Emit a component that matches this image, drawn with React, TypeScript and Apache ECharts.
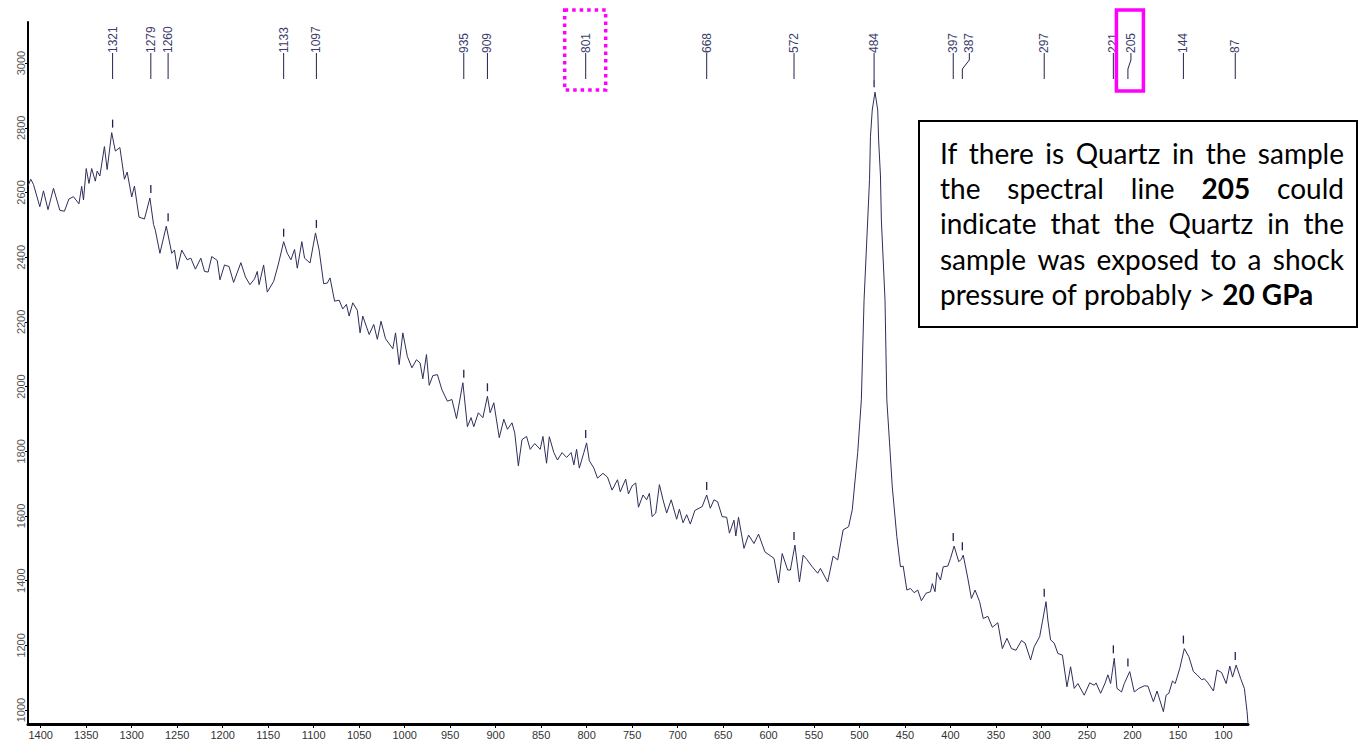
import React, { useEffect, useRef } from "react";
import * as echarts from "echarts";

// Raman shift (cm-1) and intensity
const wavenumbers = [
  1414, 1411, 1408, 1401, 1397, 1392, 1386, 1379, 1374, 1369,
  1364, 1358, 1355, 1353, 1350, 1347, 1344, 1340, 1338, 1335,
  1330, 1327, 1322, 1318, 1313, 1308, 1305, 1300, 1297, 1292,
  1286, 1280, 1276, 1274, 1269, 1262, 1256, 1253, 1250, 1245,
  1239, 1235, 1230, 1224, 1220, 1216, 1212, 1206, 1203, 1198,
  1193, 1188, 1180, 1175, 1170, 1165, 1162, 1160, 1155, 1151,
  1144, 1139, 1133, 1129, 1125, 1121, 1118, 1113, 1110, 1104,
  1098, 1094, 1089, 1085, 1082, 1077, 1072, 1068, 1064, 1061,
  1057, 1052, 1049, 1046, 1039, 1034, 1030, 1026, 1021, 1013,
  1010, 1006, 1002, 997, 992, 987, 983, 980, 976, 973,
  969, 964, 959, 953, 948, 943, 936, 931, 927, 924,
  919, 914, 909, 906, 902, 896, 891, 887, 882, 879,
  875, 871, 866, 862, 857, 851, 848, 844, 841, 836,
  832, 827, 822, 817, 814, 811, 808, 803, 800, 797,
  792, 788, 782, 777, 772, 766, 763, 757, 754, 750,
  746, 743, 738, 734, 731, 728, 724, 720, 716, 712,
  707, 701, 698, 694, 690, 686, 681, 673, 668, 664,
  660, 656, 651, 646, 643, 638, 636, 633, 627, 622,
  616, 611, 604, 594, 589, 585, 579, 576, 571, 566,
  562, 558, 552, 546, 543, 535, 529, 524, 518, 512,
  508, 502, 498, 495, 491, 489, 488, 486, 483, 480,
  479, 477, 476, 472, 470, 467, 464, 459, 455, 452,
  448, 444, 440, 436, 432, 427, 422, 420, 417, 415,
  411, 408, 403, 400, 396, 391, 388, 386, 381, 377,
  373, 368, 364, 359, 354, 348, 343, 338, 333, 328,
  322, 318, 312, 308, 302, 299, 295, 293, 290, 286,
  282, 277, 272, 268, 264, 260, 253, 247, 242, 240,
  235, 230, 227, 224, 220, 217, 212, 209, 203, 198,
  193, 187, 183, 177, 173, 166, 163, 160, 156, 153,
  148, 143, 138, 133, 129, 124, 121, 117, 111, 107,
  102, 97, 93, 90, 86, 81, 77, 74, 73,
];

const intensities = [
  2620, 2641, 2625, 2556, 2605, 2547, 2613, 2545, 2542, 2580,
  2587, 2565, 2619, 2577, 2674, 2628, 2674, 2635, 2666, 2651,
  2742, 2671, 2785, 2728, 2739, 2641, 2663, 2586, 2620, 2524,
  2518, 2583, 2501, 2483, 2412, 2496, 2412, 2422, 2363, 2422,
  2392, 2397, 2363, 2397, 2356, 2354, 2402, 2390, 2330, 2376,
  2371, 2322, 2383, 2339, 2315, 2333, 2356, 2315, 2376, 2292,
  2325, 2376, 2448, 2412, 2392, 2424, 2366, 2448, 2397, 2382,
  2475, 2422, 2318, 2320, 2336, 2264, 2267, 2240, 2254, 2218,
  2259, 2236, 2166, 2218, 2161, 2192, 2146, 2202, 2148, 2117,
  2166, 2068, 2166, 2093, 2058, 2083, 2073, 2024, 2099, 2004,
  2034, 2037, 1990, 1955, 1960, 1901, 2012, 1876, 1904, 1876,
  1919, 1904, 1970, 1919, 1950, 1842, 1899, 1868, 1888, 1857,
  1755, 1836, 1846, 1806, 1824, 1806, 1846, 1763, 1845, 1796,
  1773, 1796, 1781, 1796, 1758, 1806, 1748, 1796, 1826, 1771,
  1748, 1717, 1732, 1720, 1680, 1712, 1675, 1714, 1668, 1693,
  1702, 1627, 1665, 1650, 1670, 1598, 1609, 1697, 1650, 1609,
  1650, 1590, 1621, 1579, 1604, 1575, 1617, 1629, 1665, 1624,
  1650, 1644, 1598, 1596, 1547, 1587, 1538, 1596, 1500, 1541,
  1515, 1544, 1489, 1469, 1393, 1484, 1433, 1433, 1510, 1396,
  1479, 1466, 1443, 1423, 1438, 1396, 1476, 1464, 1557, 1567,
  1619, 1796, 1959, 2268, 2515, 2641, 2772, 2855, 2910, 2855,
  2762, 2651, 2515, 2268, 1959, 1826, 1690, 1536, 1443, 1445,
  1371, 1376, 1363, 1371, 1338, 1361, 1366, 1391, 1366, 1425,
  1402, 1443, 1445, 1469, 1507, 1459, 1466, 1479, 1408, 1345,
  1371, 1335, 1283, 1290, 1256, 1270, 1190, 1222, 1190, 1185,
  1215, 1207, 1155, 1196, 1227, 1273, 1335, 1278, 1217, 1207,
  1175, 1170, 1072, 1134, 1067, 1082, 1046, 1084, 1077, 1084,
  1052, 1084, 1109, 1082, 1160, 1067, 1056, 1082, 1119, 1056,
  1067, 1075, 1074, 1026, 1059, 995, 1046, 1052, 1090, 1082,
  1129, 1190, 1165, 1119, 1109, 1094, 1097, 1084, 1059, 1124,
  1116, 1082, 1136, 1102, 1139, 1097, 1067, 995, 957,
];

// Labelled peaks and the intensity at each peak top
const peakLabels = [1321, 1279, 1260, 1133, 1097, 935, 909, 801, 668, 572, 484, 397, 387, 297, 221, 205, 144, 87];
const peakTops = [2785, 2583, 2496, 2448, 2475, 2012, 1970, 1826, 1665, 1510, 2910, 1507, 1479, 1335, 1160, 1119, 1190, 1139];

const dottedBoxPeak = 801;
const solidBoxPeak = 205;

const xTicks = [100, 150, 200, 250, 300, 350, 400, 450, 500, 550, 600, 650, 700, 750, 800, 850, 900, 950, 1000, 1050, 1100, 1150, 1200, 1250, 1300, 1350, 1400];
const yTicks = [1000, 1200, 1400, 1600, 1800, 2000, 2200, 2400, 2600, 2800, 3000];

const noteLines = [
  "If there is Quartz in the sample",
  "the spectral line **205** could",
  "indicate that the Quartz in the",
  "sample was exposed to a shock",
  "pressure of probably > **20 GPa**",
];

const LINE_COLOR = "#22224e";
const LABEL_COLOR = "#3c3c6c";
const NOTE_FONT_SIZE = 28;
const NOTE_FONT = "Lato, 'Open Sans', sans-serif";

export default function App() {
  const ref = useRef<HTMLDivElement>(null);

  useEffect(() => {
    if (!ref.current) return;
    const chart = echarts.init(ref.current, null, { renderer: "svg" });

    const lineData = wavenumbers.map((w, i) => [w, intensities[i]]);
    const peakData = peakLabels.map((p, i) => [p, peakTops[i]]);

    const labelShift: Record<number, number> = { 387: 7, 205: 3 };

    const renderPeak = (params: any, api: any) => {
      const v = api.value(0);
      const top = api.value(1);
      const pt = api.coord([v, top]);
      const x = pt[0];
      const y = pt[1];
      const y0 = params.coordSys.y;
      const sh = labelShift[v] || 0;
      const lx = x + sh;
      const children: any[] = [];
      children.push({
        type: "text",
        x: lx,
        y: y0 + 31,
        rotation: Math.PI / 2,
        style: {
          text: String(v),
          fill: LABEL_COLOR,
          font: '12px "Liberation Sans", Arial, sans-serif',
          align: "left",
          verticalAlign: "middle",
        },
      });
      const pts = sh
        ? [[lx, y0 + 31], [lx, y0 + 38], [x, y0 + 47], [x, y0 + 57]]
        : [[x, y0 + 31], [x, y0 + 57]];
      children.push({
        type: "polyline",
        shape: { points: pts },
        style: { stroke: LINE_COLOR, lineWidth: 1, fill: "none" },
      });
      children.push({
        type: "line",
        shape: { x1: x, y1: y - 13, x2: x, y2: y - 5 },
        style: { stroke: LINE_COLOR, lineWidth: 1.3 },
      });
      if (v === dottedBoxPeak) {
        children.push({
          type: "rect",
          shape: { x: lx - 21, y: y0 - 12, width: 41, height: 80 },
          style: { fill: "none", stroke: "#ff00ff", lineWidth: 3.5, lineDash: [3.5, 4] },
        });
      }
      if (v === solidBoxPeak) {
        children.push({
          type: "rect",
          shape: { x: lx - 14.5, y: y0 - 12, width: 27, height: 81 },
          style: { fill: "none", stroke: "#ff00ff", lineWidth: 3.5 },
        });
      }
      return { type: "group", children };
    };

    // annotation text: justified lines
    const canvas = document.createElement("canvas");
    const ctx = canvas.getContext("2d")!;
    const fontStr = (b: boolean) => `${b ? "bold " : ""}${NOTE_FONT_SIZE}px ${NOTE_FONT}`;
    const measure = (t: string, b: boolean) => {
      ctx.font = fontStr(b);
      return ctx.measureText(t).width;
    };
    const noteLeft = 940;
    const noteRight = 1344;
    const lineYs = [153, 188, 223, 259, 294];
    const noteElements: any[] = [
      {
        type: "rect",
        shape: { x: 919, y: 121, width: 438, height: 206 },
        style: { fill: "#fff", stroke: "#000", lineWidth: 2 },
        z: 100,
      },
    ];
    noteLines.forEach((line, li) => {
      let bold = false;
      const words = line.split(" ").map((tok) => {
        let t = tok;
        let b = bold;
        if (t.startsWith("**")) {
          t = t.slice(2);
          b = true;
          bold = true;
        }
        if (t.endsWith("**")) {
          t = t.slice(0, -2);
          bold = false;
        }
        return { t, b, w: measure(t, b) };
      });
      const total = words.reduce((s, w) => s + w.w, 0);
      const isLast = li === noteLines.length - 1;
      const gap = isLast ? measure(" ", false) : (noteRight - noteLeft - total) / (words.length - 1);
      let cx = noteLeft;
      words.forEach((w) => {
        noteElements.push({
          type: "text",
          x: cx,
          y: lineYs[li],
          z: 101,
          style: {
            text: w.t,
            fill: "#000",
            font: fontStr(w.b),
            align: "left",
            verticalAlign: "middle",
          },
        });
        cx += w.w + gap;
      });
    });

    const plain = (v: number) => String(v);

    const option: any = {
      animation: false,
      backgroundColor: "#fff",
      grid: { left: 28, right: 111, top: 22, bottom: 18 },
      xAxis: {
        type: "value",
        inverse: true,
        min: 73,
        max: 1414,
        axisLine: { show: true, onZero: false, lineStyle: { color: "#000", width: 3 } },
        axisTick: { show: true, length: 4, customValues: xTicks, lineStyle: { color: "#000", width: 1 } },
        axisLabel: {
          customValues: xTicks,
          formatter: plain,
          margin: 5,
          color: "#333",
          fontSize: 11,
          fontFamily: '"Liberation Sans", Arial, sans-serif',
        },
        splitLine: { show: false },
      },
      yAxis: {
        type: "value",
        min: 957,
        max: 3127,
        axisLine: { show: true, onZero: false, lineStyle: { color: "#000", width: 2 } },
        axisTick: { show: true, length: 3, customValues: yTicks, lineStyle: { color: "#000", width: 1 } },
        axisLabel: {
          customValues: yTicks,
          formatter: plain,
          rotate: 90,
          margin: 2,
          color: "#555",
          fontSize: 11,
          fontFamily: '"Liberation Sans", Arial, sans-serif',
        },
        splitLine: { show: false },
      },
      series: [
        {
          type: "line",
          data: lineData,
          showSymbol: false,
          symbol: "none",
          lineStyle: { color: "#2e2e5c", width: 1 },
          silent: true,
          z: 2,
        },
        {
          type: "custom",
          data: peakData,
          encode: { x: 0, y: 1 },
          renderItem: renderPeak,
          clip: false,
          silent: true,
          z: 5,
        },
      ],
      graphic: { elements: noteElements },
    };

    chart.setOption(option);
    return () => chart.dispose();
  }, []);

  return (
    <div
      ref={ref}
      style={{ position: "fixed", left: 0, top: 0, width: 1359, height: 742, background: "#fff" }}
    />
  );
}
